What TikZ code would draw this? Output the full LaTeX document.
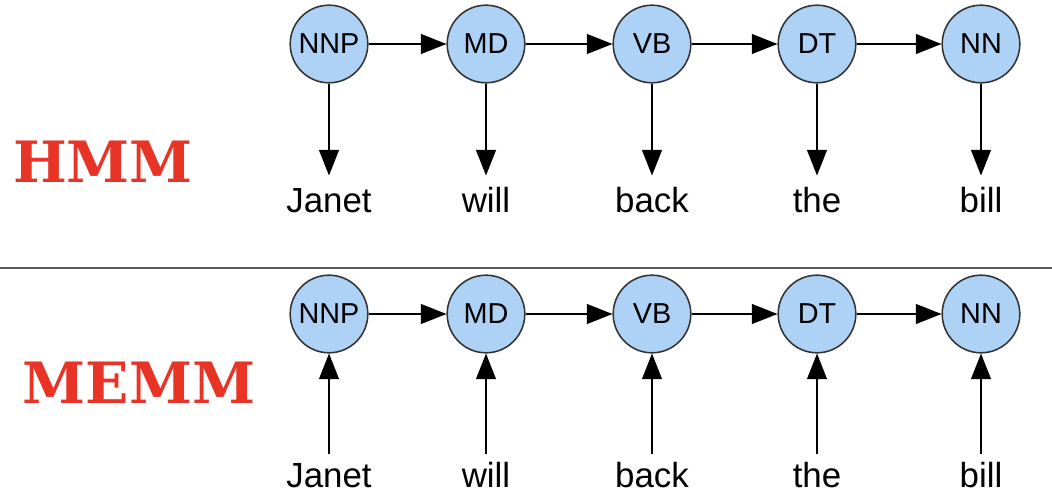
\documentclass[tikz,border=0pt]{standalone}
\usepackage{fontspec}
\setmainfont{Liberation Sans}
\newfontfamily\slabfont{DejaVu Serif}
\usetikzlibrary{arrows.meta}
\definecolor{tagblue}{RGB}{174,210,246}
\definecolor{modelred}{RGB}{232,52,38}
\tikzset{
  tag/.style={circle, draw=black!80, fill=tagblue, line width=1.1pt, minimum size=1.94cm, inner sep=0pt, font=\fontsize{20.5}{20}\selectfont},
  word/.style={font=\fontsize{24.8}{25}\selectfont, text height=0.63cm, text depth=0pt, inner xsep=0pt, inner ysep=0.3cm, anchor=base},
  link/.style={-{Triangle[length=0.64cm,width=0.5cm]}, line width=0.8pt, black},
  model/.style={font=\slabfont\bfseries\fontsize{40.5}{41}\selectfont, text=modelred}
}
\begin{document}
\begin{tikzpicture}[x=0.025cm,y=-0.025cm]
\useasboundingbox (0,0) rectangle (1052,498);
% Modellnamen
\node[model] (hmm) at (103,162) {HMM};
\node[model] (memm) at (139,383) {MEMM};
% Trennlinie
\draw[black!65, line width=1.2pt] (0,268) -- (1052,268);
% Tags und Woerter
\foreach \tagname/\wrd/\x [count=\i] in {NNP/Janet/329, MD/will/486, VB/back/652, DT/the/817, NN/bill/981} {
  \node[tag] (ht\i) at (\x,44) {\tagname};
  \node[word] (hw\i) at (\x,213) {\wrd};
  \draw[link] (ht\i) -- (hw\i);
  \node[tag] (mt\i) at (\x,314) {\tagname};
  \node[word, inner ysep=0.2cm] (mw\i) at (\x,487) {\wrd};
  \draw[link] (mw\i) -- (mt\i);
}
\foreach \i/\j in {1/2,2/3,3/4,4/5} {
  \draw[link] (ht\i) -- (ht\j);
  \draw[link] (mt\i) -- (mt\j);
}
\end{tikzpicture}
\end{document}
